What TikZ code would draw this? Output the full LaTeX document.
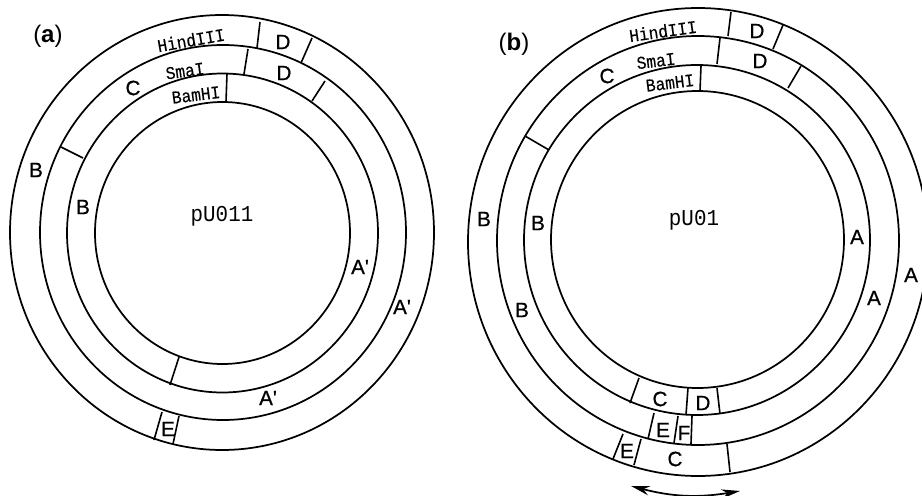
\documentclass[tikz,border=0pt]{standalone}
\usepackage{fontspec}
\setmainfont{Liberation Sans}
\newfontfamily\segfont[FakeBold=0.7]{Liberation Sans}
\newfontfamily\enzfont[FakeStretch=0.9,FakeBold=0.2]{Liberation Mono}
\newfontfamily\namefont[FakeStretch=0.92]{Liberation Mono}
\usetikzlibrary{arrows.meta}
\begin{document}
\begin{tikzpicture}[
  x=0.75pt, y=-0.75pt,
  ring/.style={draw, line width=1.3pt},
  cut/.style={draw, line width=1.2pt},
  seg/.style={font=\segfont\fontsize{15.5}{16}\selectfont, inner sep=0pt, text=black},
  enzyme/.style={font=\enzfont\fontsize{13.5}{14}\selectfont, inner sep=0pt},
  plasmid/.style={font=\namefont\fontsize{17}{18}\selectfont, inner sep=0pt},
  panel/.style={font=\fontsize{18}{19}\selectfont, inner sep=0pt},
  swing/.style={{Stealth[length=14pt,width=7pt]}-{Stealth[length=14pt,width=7pt]}, line width=1.3pt}
]
  \useasboundingbox (0,0) rectangle (922,496);
  \clip (0,0) rectangle (922,496);

  % Panneau (a)
  \draw[ring] (222,232.5) ellipse [x radius=212, y radius=217.5];
  \draw[ring] (223,232.5) ellipse [x radius=183, y radius=187.5];
  \draw[ring] (222.5,233) ellipse [x radius=155.5, y radius=159.5];
  \draw[ring] (222.5,233) ellipse [x radius=127.5, y radius=131];

  % Coupures (a)
  \foreach \xa/\ya/\xb/\yb in {260/22/257/48, 312/38/301/63, 248/49/244/74,
                               325/81/312/101, 61/147/83/158, 227/74/226/102,
                               179/357/170/385, 162/412/154/440, 179/416/173/444} {
    \draw[cut] (\xa,\ya) -- (\xb,\yb);
  }

  \node[panel] (panelA) at (48,36) {(\textbf{a})};
  \node[enzyme, rotate=10] (hindA) at (191,40) {HindIII};
  \node[enzyme, rotate=8] (smaA) at (185,71) {SmaI};
  \node[enzyme, rotate=7] (bamA) at (196,95) {BamHI};
  \node[plasmid] (nameA) at (222,216) {pU011};
  \node[seg] (cA) at (133,88) {C};
  \node[seg] (d1A) at (283,42) {D};
  \node[seg] (d2A) at (284,73) {D};
  \node[seg] (b1A) at (36,170) {B};
  \node[seg] (b2A) at (83,207) {B};
  \node[seg] (a1A) at (360,267) {A'};
  \node[seg] (a2A) at (402,307) {A'};
  \node[seg] (a3A) at (268,398) {A'};
  \node[seg] (eA) at (168,429) {E};

  % Panneau (b)
  \draw[ring] (698,242) ellipse [x radius=230, y radius=234];
  \draw[ring] (698,240.5) ellipse [x radius=201, y radius=204.5];
  \draw[ring] (697,240) ellipse [x radius=173, y radius=175];
  \draw[ring] (697.5,239.5) ellipse [x radius=146.5, y radius=148.5];

  % Coupures (b)
  \foreach \xa/\ya/\xb/\yb in {731/12/728/36, 783/25/773/49, 720/38/717/64,
                               801/66/788/88, 525/136/549/150, 701/66/700/91,
                               639/378/630/403, 688/388/686/415, 717/388/720/414,
                               654/413/648/439, 678/416/674/443, 692/416/691/444,
                               623/434/613/459, 641/439/634/465, 727/444/730/472} {
    \draw[cut] (\xa,\ya) -- (\xb,\yb);
  }

  \node[panel] (panelB) at (514,44) {(\textbf{b})};
  \node[enzyme, rotate=8] (hindB) at (663,31) {HindIII};
  \node[enzyme, rotate=7] (smaB) at (656,61) {SmaI};
  \node[enzyme, rotate=7] (bamB) at (670,83) {BamHI};
  \node[plasmid] (nameB) at (694,220) {pU01};
  \node[seg] (c1B) at (607,76) {C};
  \node[seg] (d1B) at (757,31) {D};
  \node[seg] (d2B) at (760,61) {D};
  \node[seg] (b1B) at (484,219) {B};
  \node[seg] (b2B) at (538,223) {B};
  \node[seg] (b3B) at (522,310) {B};
  \node[seg] (a1B) at (857,237) {A};
  \node[seg] (a2B) at (911,275) {A};
  \node[seg] (a3B) at (874,298) {A};
  \node[seg] (c2B) at (660,399) {C};
  \node[seg] (d3B) at (703,403) {D};
  \node[seg] (e1B) at (663,430) {E};
  \node[seg] (fB) at (684,433) {F};
  \node[seg] (e2B) at (627,451) {E};
  \node[seg] (c3B) at (675,459) {C};

  % Double fleche
  \coordinate (swingL) at (631,486);
  \coordinate (swingR) at (740,491);
  \draw[swing] (swingL) to[bend right=12] (swingR);
\end{tikzpicture}
\end{document}
